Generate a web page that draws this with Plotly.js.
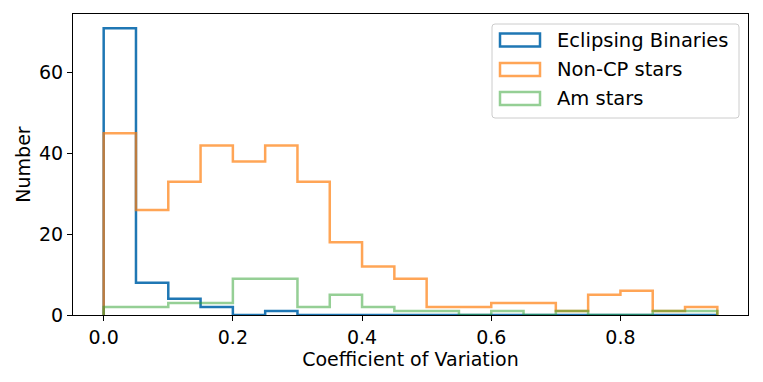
<!DOCTYPE html>
<html>
<head>
<meta charset="utf-8">
<script src="https://cdn.plot.ly/plotly-3.0.1.min.js"></script>
<style>
  html, body { margin: 0; padding: 0; background: #fff; }
  #chart { width: 763px; height: 382px; }
</style>
</head>
<body>
<div id="chart"></div>
<script>
// bin edges of the histograms (width 0.05)
const binEdges = [0.0, 0.05, 0.1, 0.15, 0.2, 0.25, 0.3, 0.35, 0.4, 0.45, 0.5,
                  0.55, 0.6, 0.65, 0.7, 0.75, 0.8, 0.85, 0.9, 0.95];

// counts per bin
const eclipsingBinaries = [71, 8, 4, 2, 0, 1, 0, 0, 0, 0, 0, 0, 0, 0, 0, 0, 0, 0, 0];
const nonCpStars = [45, 26, 33, 42, 38, 42, 33, 18, 12, 9, 2, 2, 3, 3, 1, 5, 6, 1, 2];
const amStars = [2, 2, 3, 3, 9, 9, 2, 5, 2, 1, 1, 0, 1, 0, 1, 0, 0, 1, 1];

const seriesNames = ["Eclipsing Binaries", "Non-CP stars", "Am stars"];
const seriesCounts = [eclipsingBinaries, nonCpStars, amStars];
const seriesColors = ["rgba(31,119,180,1)", "rgba(255,127,14,0.7)", "rgba(44,160,44,0.5)"];

const xTicks = [0.0, 0.2, 0.4, 0.6, 0.8];
const xTickText = ["0.0", "0.2", "0.4", "0.6", "0.8"];
const yTicks = [0, 20, 40, 60];

// step outline like matplotlib histtype='step'
function stepTrace(counts, name, color) {
  const n = counts.length;
  const x = [binEdges[0]];
  const y = [0];
  for (let i = 0; i < n; i++) {
    x.push(binEdges[i]);
    y.push(counts[i]);
  }
  x.push(binEdges[n], binEdges[n]);
  y.push(counts[n - 1], 0);
  return {
    x: x, y: y, name: name, type: "scatter", mode: "lines",
    line: { shape: "hv", color: color, width: 2.5 },
    showlegend: false, hoverinfo: "skip"
  };
}

const traces = seriesNames.map((nm, i) => stepTrace(seriesCounts[i], nm, seriesColors[i]));

// hand-made legend (outlined rectangles, like matplotlib patches)
const W = 675, H = 301;          // plot area size in px
const px = v => v / W, py = v => v / H;
const bx0 = px(419), bx1 = px(666), by1 = 1 - py(10), by0 = 1 - py(104);
const rx = px(3), ry = py(3);
const shapes = [{
  type: "path", xref: "paper", yref: "paper", layer: "above",
  path: `M ${bx0 + rx},${by1} L ${bx1 - rx},${by1} Q ${bx1},${by1} ${bx1},${by1 - ry} ` +
        `L ${bx1},${by0 + ry} Q ${bx1},${by0} ${bx1 - rx},${by0} L ${bx0 + rx},${by0} ` +
        `Q ${bx0},${by0} ${bx0},${by0 + ry} L ${bx0},${by1 - ry} Q ${bx0},${by1} ${bx0 + rx},${by1} Z`,
  fillcolor: "rgba(255,255,255,0.8)",
  line: { color: "#cccccc", width: 1 }
}];
const annotations = [];
const rowY = [26, 55.5, 84.5];   // px from top of plot area
seriesNames.forEach((nm, i) => {
  shapes.push({
    type: "rect", xref: "paper", yref: "paper", layer: "above",
    x0: px(427), x1: px(467), y0: 1 - py(rowY[i] + 6.5), y1: 1 - py(rowY[i] - 6.5),
    fillcolor: "rgba(0,0,0,0)",
    line: { color: seriesColors[i], width: 2.5 }
  });
  annotations.push({
    xref: "paper", yref: "paper", x: px(482), y: 1 - py(rowY[i]),
    xanchor: "left", yanchor: "middle", showarrow: false, text: nm,
    font: { family: "DejaVu Sans", size: 19.5, color: "#000" }
  });
});

const layout = {
  width: 763, height: 382,
  margin: { l: 73, r: 15, t: 14, b: 67 },
  paper_bgcolor: "#fff", plot_bgcolor: "#fff",
  font: { family: "DejaVu Sans", size: 19, color: "#000" },
  showlegend: false,
  xaxis: {
    range: [-0.0475, 0.9975],
    tickvals: xTicks, ticktext: xTickText,
    ticks: "outside", ticklen: 5, tickwidth: 1, tickcolor: "#000",
    showline: true, linecolor: "#000", linewidth: 1, mirror: true,
    showgrid: false, zeroline: false,
    tickfont: { size: 19 },
    title: { text: "Coefficient of Variation", font: { size: 19 }, standoff: 2 }
  },
  yaxis: {
    range: [0, 74.55],
    tickvals: yTicks,
    ticks: "outside", ticklen: 5, tickwidth: 1, tickcolor: "#000",
    showline: true, linecolor: "#000", linewidth: 1, mirror: true,
    showgrid: false, zeroline: false,
    tickfont: { size: 19 },
    title: { text: "Number", font: { size: 19 }, standoff: 3 }
  },
  shapes: shapes,
  annotations: annotations
};

Plotly.newPlot("chart", traces, layout, { displayModeBar: false, staticPlot: true });
</script>
</body>
</html>
